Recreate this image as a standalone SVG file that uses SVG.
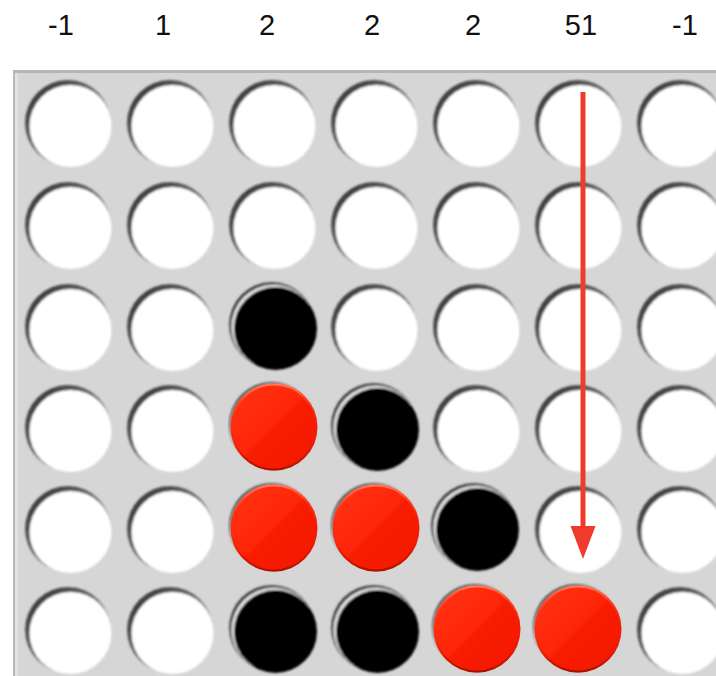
<svg xmlns="http://www.w3.org/2000/svg" xmlns:xlink="http://www.w3.org/1999/xlink" width="716" height="676" viewBox="0 0 716 676">
  <style>
    .lbl { font-family: "Liberation Sans", Arial, sans-serif; font-size: 29px; fill: #111; text-anchor: middle; }
    .arrow { stroke: #f03a2c; stroke-width: 5; fill: none; }
  </style>
  <defs>
    <linearGradient id="shadowGrad" x1="0" y1="0" x2="1" y2="1">
      <stop offset="0" stop-color="#2a2a2a"/>
      <stop offset="0.45" stop-color="#6a6a6a"/>
      <stop offset="0.75" stop-color="#c8c8c8"/>
      <stop offset="1" stop-color="#f2f2f2"/>
    </linearGradient>
    <linearGradient id="redGrad" x1="0" y1="0" x2="1" y2="1">
      <stop offset="0" stop-color="#ff3414"/>
      <stop offset="0.48" stop-color="#ff2608"/>
      <stop offset="0.52" stop-color="#f81c00"/>
      <stop offset="1" stop-color="#f21800"/>
    </linearGradient>
    <linearGradient id="redRim" x1="0" y1="0" x2="0" y2="1">
      <stop offset="0" stop-color="#ff8060" stop-opacity="0.9"/>
      <stop offset="0.5" stop-color="#ff2000" stop-opacity="0"/>
      <stop offset="1" stop-color="#a01000" stop-opacity="0.9"/>
    </linearGradient>
    <filter id="soft" x="-20%" y="-20%" width="140%" height="140%">
      <feGaussianBlur stdDeviation="0.9"/>
    </filter>
    <g id="hole" filter="url(#soft)">
      <circle r="43" fill="url(#shadowGrad)"/>
      <circle cx="2.5" cy="3" r="41" fill="#ffffff"/>
    </g>
    <g id="black" filter="url(#soft)">
      <circle r="43" fill="url(#shadowGrad)"/>
      <circle cx="1.5" cy="1.8" r="42" fill="#e6e6e6"/>
      <circle cx="3.5" cy="3.5" r="41.5" fill="#000000"/>
    </g>
    <g id="red">
      <g filter="url(#soft)">
        <circle r="43" fill="url(#shadowGrad)"/>
        <circle cx="1.5" cy="1.8" r="43" fill="#c0c0c0"/>
      </g>
      <circle cx="2" cy="2" r="43.5" fill="url(#redGrad)"/>
      <circle cx="2" cy="2" r="42.5" fill="none" stroke="url(#redRim)" stroke-width="2"/>
    </g>
    <marker id="arrowHead" markerUnits="userSpaceOnUse" markerWidth="34" markerHeight="26" refX="0" refY="12.5" orient="auto" viewBox="0 0 34 26">
      <polygon points="0,0 33,12.5 0,25" fill="#f03a2c"/>
    </marker>
  </defs>

  <rect width="716" height="676" fill="#ffffff"/>

  <g id="labels">
    <text class="lbl" x="61" y="35">-1</text>
    <text class="lbl" x="163" y="35">1</text>
    <text class="lbl" x="267" y="35">2</text>
    <text class="lbl" x="372" y="35">2</text>
    <text class="lbl" x="473" y="35">2</text>
    <text class="lbl" x="581" y="35">51</text>
    <text class="lbl" x="685" y="35">-1</text>
  </g>

  <g id="board">
    <rect x="13" y="70" width="703" height="606" fill="#d6d6d6"/>
    <rect x="13" y="70" width="703" height="3" fill="#b5b5b5"/>
    <rect x="13" y="70" width="2" height="606" fill="#b8b8b8"/>
    <rect x="15" y="73" width="3" height="603" fill="#e2e2e2"/>
  </g>

  <g id="row1">
    <use xlink:href="#hole" x="68" y="123"/>
    <use xlink:href="#hole" x="170" y="123"/>
    <use xlink:href="#hole" x="272" y="123"/>
    <use xlink:href="#hole" x="374" y="123"/>
    <use xlink:href="#hole" x="476" y="123"/>
    <use xlink:href="#hole" x="578" y="123"/>
    <use xlink:href="#hole" x="680" y="123"/>
  </g>
  <g id="row2">
    <use xlink:href="#hole" x="68" y="225"/>
    <use xlink:href="#hole" x="170" y="225"/>
    <use xlink:href="#hole" x="272" y="225"/>
    <use xlink:href="#hole" x="374" y="225"/>
    <use xlink:href="#hole" x="476" y="225"/>
    <use xlink:href="#hole" x="578" y="225"/>
    <use xlink:href="#hole" x="680" y="225"/>
  </g>
  <g id="row3">
    <use xlink:href="#hole" x="68" y="327"/>
    <use xlink:href="#hole" x="170" y="327"/>
    <use xlink:href="#black" x="272" y="325"/>
    <use xlink:href="#hole" x="374" y="327"/>
    <use xlink:href="#hole" x="476" y="327"/>
    <use xlink:href="#hole" x="578" y="327"/>
    <use xlink:href="#hole" x="680" y="327"/>
  </g>
  <g id="row4">
    <use xlink:href="#hole" x="68" y="428"/>
    <use xlink:href="#hole" x="170" y="428"/>
    <use xlink:href="#red" x="272" y="425"/>
    <use xlink:href="#black" x="374" y="426"/>
    <use xlink:href="#hole" x="476" y="428"/>
    <use xlink:href="#hole" x="578" y="428"/>
    <use xlink:href="#hole" x="680" y="428"/>
  </g>
  <g id="row5">
    <use xlink:href="#hole" x="68" y="529"/>
    <use xlink:href="#hole" x="170" y="529"/>
    <use xlink:href="#red" x="272" y="526"/>
    <use xlink:href="#red" x="374" y="526"/>
    <use xlink:href="#black" x="474" y="526"/>
    <use xlink:href="#hole" x="578" y="529"/>
    <use xlink:href="#hole" x="680" y="529"/>
  </g>
  <g id="row6">
    <use xlink:href="#hole" x="68" y="630"/>
    <use xlink:href="#hole" x="170" y="630"/>
    <use xlink:href="#black" x="272" y="628"/>
    <use xlink:href="#black" x="374" y="628"/>
    <use xlink:href="#red" x="475" y="627"/>
    <use xlink:href="#red" x="576" y="627"/>
    <use xlink:href="#hole" x="680" y="630"/>
  </g>

  <g id="connectors">
    <line class="arrow" x1="583" y1="92" x2="583" y2="526" marker-end="url(#arrowHead)"/>
  </g>
</svg>
